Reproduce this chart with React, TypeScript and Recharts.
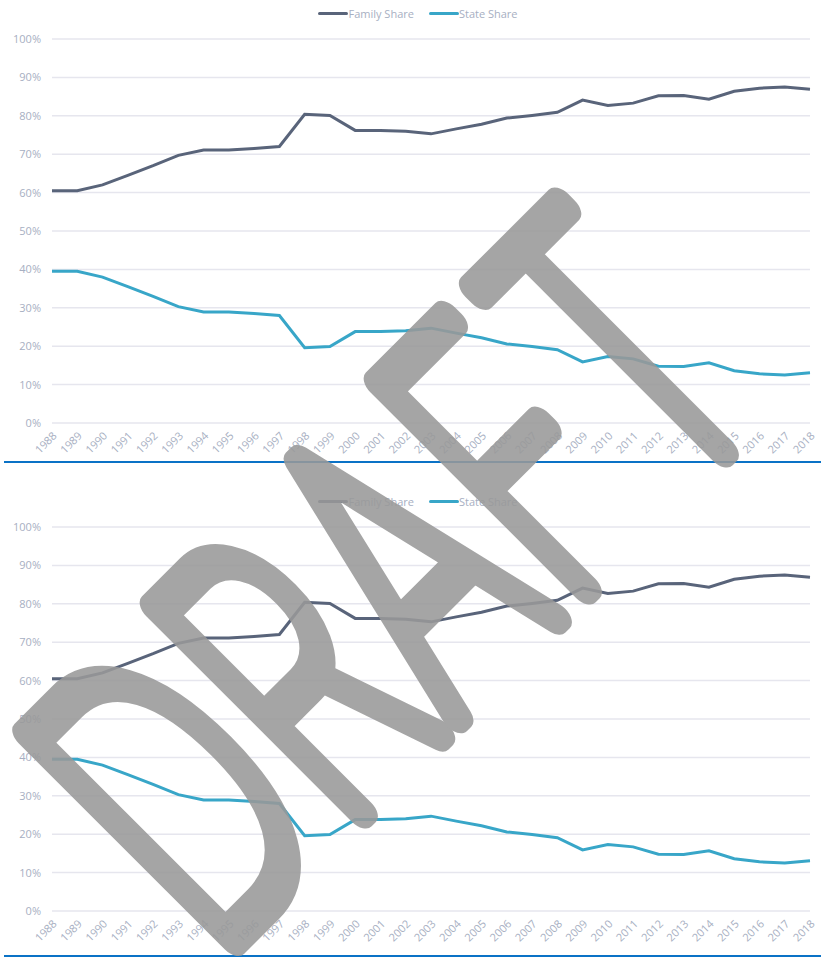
import { LineChart, Line, XAxis, YAxis, CartesianGrid, Legend } from "recharts";

const years = [
  "1988", "1989", "1990", "1991", "1992", "1993", "1994", "1995", "1996", "1997",
  "1998", "1999", "2000", "2001", "2002", "2003", "2004", "2005", "2006", "2007",
  "2008", "2009", "2010", "2011", "2012", "2013", "2014", "2015", "2016", "2017", "2018",
];

const familyShare = [
  60.5, 60.5, 62, 64.5, 67, 69.7, 71.1, 71.1, 71.5, 72,
  80.4, 80.1, 76.2, 76.2, 76, 75.3, 76.6, 77.8, 79.4, 80.1,
  80.9, 84.1, 82.7, 83.3, 85.2, 85.3, 84.3, 86.4, 87.2, 87.5, 86.9,
];

const stateShare = [
  39.5, 39.5, 38, 35.5, 33, 30.3, 28.9, 28.9, 28.5, 28,
  19.6, 19.9, 23.8, 23.8, 24, 24.7, 23.4, 22.2, 20.6, 19.9,
  19.1, 15.9, 17.3, 16.7, 14.8, 14.7, 15.7, 13.6, 12.8, 12.5, 13.1,
];

const yTicks = [0, 10, 20, 30, 40, 50, 60, 70, 80, 90, 100];

const data = years.map((year, i) => ({
  year,
  family: familyShare[i],
  state: stateShare[i],
}));

const FONT = "'Open Sans', sans-serif";
const LABEL = "#a7afc2";
const FAMILY = "#59647a";
const STATE = "#38a6c8";

function LegendBox() {
  const items = [
    { name: "Family Share", color: FAMILY },
    { name: "State Share", color: STATE },
  ];
  return (
    <div
      style={{
        display: "flex",
        justifyContent: "center",
        gap: 15,
        height: 24,
        paddingLeft: 26,
        alignItems: "center",
        fontFamily: FONT,
        fontSize: 11,
        color: LABEL,
      }}
    >
      {items.map((it) => (
        <div key={it.name} style={{ display: "flex", alignItems: "center" }}>
          <span
            style={{
              width: 30,
              height: 3,
              background: it.color,
              borderRadius: 2,
              display: "inline-block",
            }}
          />
          <span>{it.name}</span>
        </div>
      ))}
    </div>
  );
}

function ShareChart() {
  return (
    <LineChart
      width={821}
      height={462}
      data={data}
      margin={{ top: 15, right: 11, left: 0, bottom: 3 }}
    >
      <CartesianGrid vertical={false} stroke="#e6e6ee" strokeWidth={1.5} />
      <XAxis
        dataKey="year"
        interval={0}
        angle={-45}
        textAnchor="end"
        height={36}
        tickLine={false}
        axisLine={false}
        tickSize={0}
        tickMargin={8}
        tick={{ fill: LABEL, fontSize: 11, fontFamily: FONT }}
      />
      <YAxis
        domain={[0, 100]}
        ticks={yTicks}
        width={52}
        tickLine={false}
        axisLine={false}
        tickSize={0}
        tickMargin={11}
        tickFormatter={(v) => `${v}%`}
        tick={{ fill: LABEL, fontSize: 11, fontFamily: FONT }}
      />
      <Legend
        verticalAlign="top"
        content={() => <LegendBox />}
        wrapperStyle={{ top: 1 }}
      />
      <Line
        type="linear"
        dataKey="family"
        name="Family Share"
        stroke={FAMILY}
        strokeWidth={3}
        dot={false}
        isAnimationActive={false}
      />
      <Line
        type="linear"
        dataKey="state"
        name="State Share"
        stroke={STATE}
        strokeWidth={3}
        dot={false}
        isAnimationActive={false}
      />
    </LineChart>
  );
}

export default function App() {
  return (
    <div
      style={{
        position: "absolute",
        left: 0,
        top: 0,
        width: 821,
        height: 958,
        background: "#fff",
        overflow: "hidden",
      }}
    >
      <div style={{ position: "absolute", left: 0, top: 0 }}>
        <ShareChart />
      </div>
      <div
        style={{
          position: "absolute",
          left: 4,
          top: 461,
          width: 817,
          height: 2,
          background: "#0a72c6",
        }}
      />
      <div style={{ position: "absolute", left: 0, top: 488 }}>
        <ShareChart />
      </div>
      <div
        style={{
          position: "absolute",
          left: 4,
          top: 955,
          width: 817,
          height: 2,
          background: "#0a72c6",
        }}
      />
      <svg
        width={821}
        height={958}
        style={{ position: "absolute", left: 0, top: 0, pointerEvents: "none" }}
      >
        <g transform="translate(212,962) rotate(-45)" opacity={0.88}>
          <text
            x={0}
            y={0}
            fontFamily="Inter, 'DejaVu Sans', sans-serif"
            fontWeight={100}
            fontSize={400}
            textLength={800}
            lengthAdjust="spacingAndGlyphs"
            fill="#999999"
            stroke="#999999"
            strokeWidth={34}
            strokeLinejoin="round"
            strokeLinecap="round"
          >
            DRAFT
          </text>
        </g>
      </svg>
    </div>
  );
}
